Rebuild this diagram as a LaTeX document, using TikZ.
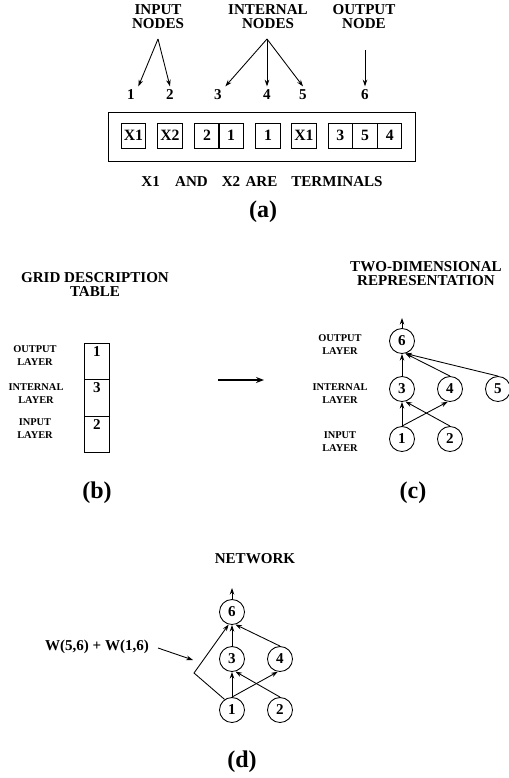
\documentclass[tikz,border=0pt]{standalone}
\usepackage{fontspec}
\setmainfont{Liberation Serif}
\usetikzlibrary{arrows.meta}
\begin{document}
\begin{tikzpicture}[x=0.75pt,y=-0.75pt,
  lab/.style={font=\fontsize{11.3}{10.5}\selectfont\bfseries, align=center, inner sep=0pt},
  sml/.style={font=\fontsize{7.8}{9.75}\selectfont\bfseries, align=center, inner sep=0pt},
  capt/.style={font=\fontsize{18}{20}\selectfont\bfseries, inner sep=0pt},
  num/.style={font=\fontsize{11.3}{12}\selectfont\bfseries, inner sep=2.5pt},
  cellbox/.style={draw, line width=0.65pt, minimum width=18.3pt, minimum height=18.75pt, inner sep=0pt, font=\fontsize{11.8}{12}\selectfont\bfseries},
  gcell/.style={draw, line width=0.65pt, minimum width=18.75pt, minimum height=27.4pt, inner sep=0pt},
  neuron/.style={circle, draw, line width=0.65pt, minimum size=18.75pt, inner sep=0pt, font=\fontsize{11.3}{12}\selectfont\bfseries},
  arr/.style={-{Stealth[length=5pt,width=3.4pt]}, line width=0.65pt}
]
\useasboundingbox (0,0) rectangle (509,778);

% ---------- (a) ----------
\node[lab] (tin) at (158,17) {INPUT\\NODES};
\node[lab] (tint) at (268,17) {INTERNAL\\NODES};
\node[lab] (tout) at (364,17) {OUTPUT\\NODE};
\coordinate (ain) at (158,39);
\coordinate (aint) at (267,39);
\coordinate (aout) at (365,50);
\node[num] (n1) at (131,95) {1};
\node[num] (n2) at (170,95) {2};
\node[num] (n3) at (218,95) {3};
\node[num] (n4) at (267,95) {4};
\node[num] (n5) at (303,95) {5};
\node[num] (n6) at (365,95) {6};
\draw[arr] (ain) -- (n1.north east);
\draw[arr] (ain) -- (n2.north);
\draw[arr] (aint) -- (n3.north east);
\draw[arr] (aint) -- (n4.north);
\draw[arr] (aint) -- (n5.north);
\draw[arr] (aout) -- (n6.north);

\node[draw, line width=0.65pt, minimum width=230.25pt, minimum height=36.75pt, inner sep=0pt] (outer) at (261.5,136.5) {};
\node[cellbox] (x1a) at (133.5,135.5) {X1};
\node[cellbox] (x2a) at (170,135.5) {X2};
\node[cellbox] (c21a) at (207,135.5) {2};
\node[cellbox] (c21b) at (231,135.5) {1};
\node[cellbox] (c1) at (268,135.5) {1};
\node[cellbox] (x1b) at (304,135.5) {X1};
\node[cellbox] (c3) at (340.3,135.5) {3};
\node[cellbox] (c5) at (365,135.5) {5};
\node[cellbox] (c4) at (389.7,135.5) {4};

\node[lab] (term) at (262,182) {X1\hspace{11.5pt}AND\hspace{10.5pt}X2\hspace{4pt}ARE\hspace{10.5pt}TERMINALS};
\node[capt] (capa) at (263,212) {(a)};

% ---------- (b) ----------
\node[lab] (tgrid) at (95,285) {GRID DESCRIPTION\\TABLE};
\node[sml] (lout) at (35,356) {OUTPUT\\LAYER};
\node[sml] (lint) at (36,394) {INTERNAL\\LAYER};
\node[sml] (linp) at (35,429) {INPUT\\LAYER};
\node[gcell] (g1) at (96.5,361.25) {};
\node[gcell] (g2) at (96.5,397.75) {};
\node[gcell] (g3) at (96.5,434.5) {};
\node[num, inner sep=0pt] (g1t) at (97,352) {1};
\node[num, inner sep=0pt] (g2t) at (97,388) {3};
\node[num, inner sep=0pt] (g3t) at (97,425) {2};
\node[capt] (capb) at (97,493) {(b)};

\coordinate (ma) at (218,380);
\coordinate (mb) at (264,380);
\draw[-{Stealth[length=6pt,width=4.5pt]}, line width=1.4pt] (ma) -- (mb);

% ---------- (c) ----------
\node[lab] (ttwo) at (426,274) {TWO-DIMENSIONAL\\REPRESENTATION};
\node[sml] (clout) at (340,345) {OUTPUT\\LAYER};
\node[sml] (clint) at (340,394) {INTERNAL\\LAYER};
\node[sml] (clinp) at (340,442) {INPUT\\LAYER};
\node[neuron] (k6) at (402,341) {6};
\node[neuron] (k3) at (402,389) {3};
\node[neuron] (k4) at (450,389) {4};
\node[neuron] (k5) at (498,389) {5};
\node[neuron] (k1) at (402,439) {1};
\node[neuron] (k2) at (450,439) {2};
\coordinate (k6up) at (402,318);
\draw[arr] (k6.north) -- (k6up);
\draw[arr] (k3.north) -- (k6.south);
\draw[arr] (k4.north) -- (k6.-75);
\draw[arr] (k5.north) -- (k6.-75);
\draw[arr] (k1.north) -- (k3.south);
\draw[arr] (k1.north) -- (k4.-100);
\draw[arr] (k2.north) -- (k3.-75);
\node[capt] (capc) at (413,493) {(c)};

% ---------- (d) ----------
\node[lab] (tnet) at (255,559) {NETWORK};
\node[neuron] (d6) at (232,612) {6};
\node[neuron] (d3) at (232,659) {3};
\node[neuron] (d4) at (280,659) {4};
\node[neuron] (d1) at (232,710) {1};
\node[neuron] (d2) at (280,710) {2};
\coordinate (d6up) at (232,588);
\coordinate (bend) at (194,673);
\draw[arr] (d6.north) -- (d6up);
\draw[arr] (d3.north) -- (d6.south);
\draw[arr] (d4.north) -- (d6.-75);
\draw[arr] (d1.north) -- (d3.south);
\draw[arr] (d1.north) -- (d4.-100);
\draw[arr] (d2.north) -- (d3.-75);
\draw[arr] (d1.125) -- (bend) -- (d6.-105);
\node[lab] (wlab) at (97,647) {W(5,6) + W(1,6)};
\coordinate (wtip) at (193,660);
\draw[arr] (158,648) -- (wtip);
\node[capt] (capd) at (242,762) {(d)};
\end{tikzpicture}
\end{document}
